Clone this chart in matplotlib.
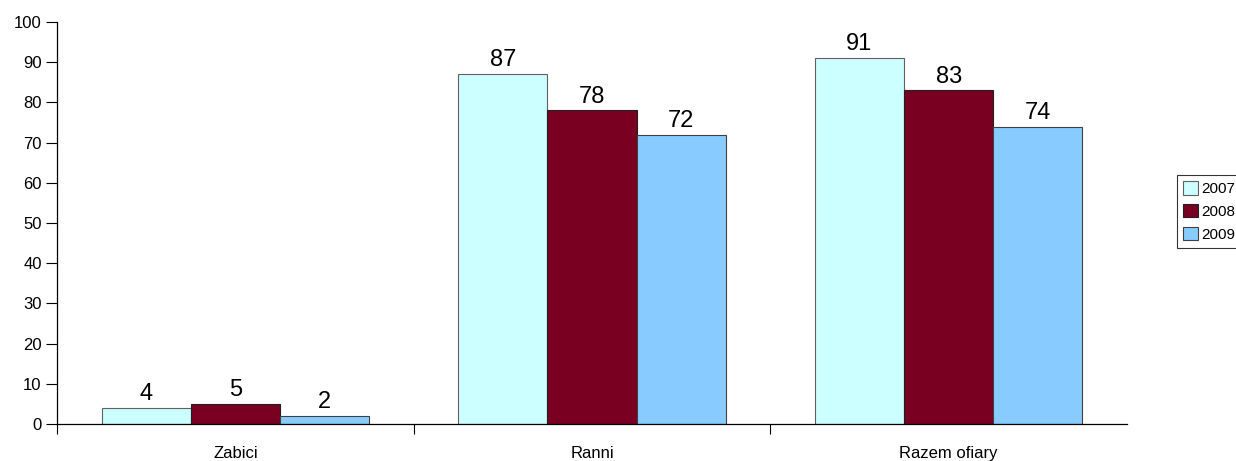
import matplotlib.pyplot as plt
import numpy as np

plt.rcParams["font.family"] = ["Liberation Sans", "DejaVu Sans"]

# Data.
categories = ["Zabici", "Ranni", "Razem ofiary"]
years = ["2007", "2008", "2009"]
values_2007 = [4, 87, 91]
values_2008 = [5, 78, 83]
values_2009 = [2, 72, 74]

colors = ["#CCFFFF", "#7A0022", "#88CCFF"]
edges = ["#606060", "#202020", "#404040"]

fig = plt.figure(figsize=(12.36, 4.61), dpi=100)
ax = fig.add_axes([0.0461, 0.0803, 0.8657, 0.872])

x = np.arange(len(categories))
width = 0.25
series = [values_2007, values_2008, values_2009]
for i, vals in enumerate(series):
    bars = ax.bar(
        x + (i - 1) * width,
        vals,
        width,
        color=colors[i],
        edgecolor=edges[i],
        linewidth=0.8,
        label=years[i],
    )
    ax.bar_label(bars, labels=[str(v) for v in vals], padding=2, fontsize=17)

ax.set_xlim(-0.5, len(categories) - 0.5)
ax.set_ylim(0, 100)
ax.set_yticks(np.arange(0, 101, 10))
ax.tick_params(axis="y", direction="out", length=8, width=0.8, labelsize=12, pad=3)

ax.set_xticks(x)
ax.set_xticklabels(categories, fontsize=12)
ax.tick_params(axis="x", which="major", length=0, pad=16)
ax.set_xticks([-0.5, 0.5, 1.5], minor=True)
ax.tick_params(axis="x", which="minor", direction="out", length=7.5, width=0.8)

for side in ["top", "right"]:
    ax.spines[side].set_visible(False)
for side in ["left", "bottom"]:
    ax.spines[side].set_linewidth(0.9)

leg = fig.legend(
    loc="upper left",
    bbox_to_anchor=(1177 / 1236, 1 - 175 / 461),
    fontsize=11,
    frameon=True,
    fancybox=False,
    edgecolor="black",
    handlelength=1.0,
    handleheight=1.0,
    handletextpad=0.2,
    labelspacing=0.5,
    borderpad=0.4,
    borderaxespad=0,
)
leg.get_frame().set_linewidth(0.8)

plt.savefig("out.png", dpi=100)
